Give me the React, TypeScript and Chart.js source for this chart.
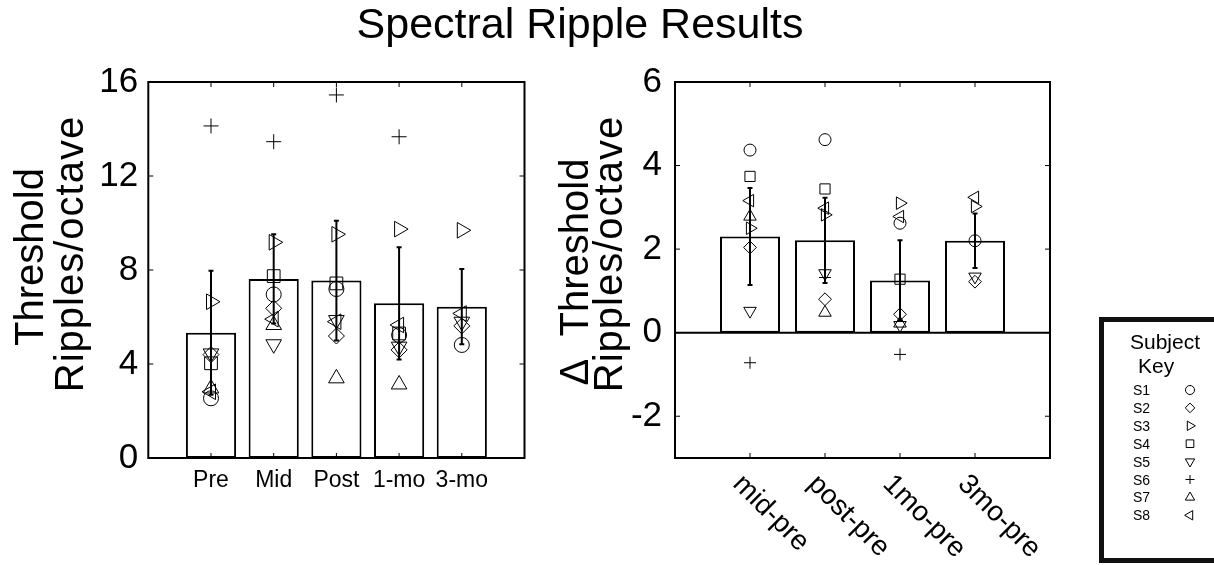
import React, { useEffect, useRef } from 'react';
import { Chart, registerables } from 'chart.js';

Chart.register(...registerables);

const FONT = '"Liberation Sans", Arial, Helvetica, sans-serif';
const W = 1214;
const H = 565;

// ---- Absolute thresholds (ripples/octave) ----
const sessions = ['Pre', 'Mid', 'Post', '1-mo', '3-mo'];
const sessionMeans = [5.33, 7.62, 7.55, 6.58, 6.44];
const sessionSD = [2.64, 1.9, 2.55, 2.39, 1.6];

// one value per session, null where the subject was not tested
const s1Thresh = [2.54, 6.96, 7.19, 5.23, 4.81];
const s2Thresh = [4.4, 6.37, 5.19, 4.6, 5.62];
const s3Thresh = [6.65, 9.18, 9.52, 9.74, 9.69];
const s4Thresh = [4.03, 7.74, 7.43, 5.3, null];
const s5Thresh = [4.45, 4.84, 5.87, 4.74, 5.8];
const s6Thresh = [14.13, 13.46, 15.45, 13.67, null];
const s7Thresh = [2.96, 5.66, 3.39, 3.13, null];
const s8Thresh = [2.82, 5.91, 5.8, 5.66, 6.15];

// ---- Change from baseline ----
const changeLabels = ['mid-pre', 'post-pre', '1mo-pre', '3mo-pre'];
const changeMeans = [2.3, 2.21, 1.25, 2.2];
const changeSD = [1.16, 1.02, 0.96, 0.65];

const s1Change = [4.37, 4.62, 2.62, 2.2];
const s2Change = [2.04, 0.8, 0.44, 1.22];
const s3Change = [2.5, 2.82, 3.1, 3.02];
const s4Change = [3.74, 3.44, 1.28, null];
const s5Change = [0.52, 1.42, 0.18, 1.34];
const s6Change = [-0.72, 1.32, -0.52, null];
const s7Change = [2.78, 0.48, 0.22, null];
const s8Change = [3.16, 2.98, 2.78, 3.24];

const subjectNames = ['S1', 'S2', 'S3', 'S4', 'S5', 'S6', 'S7', 'S8'];
const threshTicks = [0, 4, 8, 12, 16];
const changeTicks = [-2, 0, 2, 4, 6];

// marker shape per subject (S1..S8)
const MARKERS = [
  { pointStyle: 'circle', rotation: 0, r: 7.5 },
  { pointStyle: 'rectRot', rotation: 0, r: 8 },
  { pointStyle: 'triangle', rotation: 90, r: 9 },
  { pointStyle: 'rect', rotation: 0, r: 9 },
  { pointStyle: 'triangle', rotation: 180, r: 9 },
  { pointStyle: 'cross', rotation: 0, r: 7.5 },
  { pointStyle: 'triangle', rotation: 0, r: 9 },
  { pointStyle: 'triangle', rotation: 270, r: 9 },
];

type Area = { left: number; top: number; right: number; bottom: number };

type TitleLine = { text: string; x: number; y: number; spacing: number };

type Panel = {
  xLabels: string[];
  means: number[];
  sd: number[];
  subjects: (number | null)[][];
  yMin: number;
  yMax: number;
  yTicks: number[];
  area: Area;
  padLeft: number;
  yTickPad: number;
  markerScale: number;
  flatLabels: boolean;
  zeroLine: boolean;
  titleLines: TitleLine[];
  figureExtras: boolean;
};

function keyMarker(ctx: CanvasRenderingContext2D, style: string, rot: number, x: number, y: number, r: number) {
  ctx.beginPath();
  if (style === 'circle') {
    ctx.arc(x, y, r, 0, Math.PI * 2);
  } else if (style === 'rect') {
    const s = r * Math.SQRT1_2;
    ctx.rect(x - s, y - s, 2 * s, 2 * s);
  } else if (style === 'rectRot') {
    ctx.moveTo(x - r, y);
    ctx.lineTo(x, y - r);
    ctx.lineTo(x + r, y);
    ctx.lineTo(x, y + r);
    ctx.closePath();
  } else if (style === 'cross') {
    ctx.moveTo(x, y - r);
    ctx.lineTo(x, y + r);
    ctx.moveTo(x - r, y);
    ctx.lineTo(x + r, y);
  } else {
    let a = (rot * Math.PI) / 180;
    for (let k = 0; k < 3; k++) {
      const px = x + Math.sin(a) * r;
      const py = y - Math.cos(a) * r;
      if (k === 0) ctx.moveTo(px, py);
      else ctx.lineTo(px, py);
      a += (2 * Math.PI) / 3;
    }
    ctx.closePath();
  }
  ctx.stroke();
}

function makeDecor(p: Panel) {
  return {
    id: 'panelDecor',
    afterDatasetsDraw(chart: any) {
      const { ctx, chartArea: a } = chart;
      const x = chart.scales.x;
      const y = chart.scales.y;
      ctx.save();
      ctx.strokeStyle = '#000';
      ctx.lineWidth = 2;

      if (p.zeroLine) {
        const y0 = y.getPixelForValue(0);
        ctx.beginPath();
        ctx.moveTo(a.left, y0);
        ctx.lineTo(a.right, y0);
        ctx.stroke();
      }

      // error bars: mean ± SD
      p.means.forEach((m, i) => {
        const px = x.getPixelForValue(i + 1);
        const top = y.getPixelForValue(m + p.sd[i]);
        const bot = y.getPixelForValue(m - p.sd[i]);
        ctx.beginPath();
        ctx.moveTo(px, top);
        ctx.lineTo(px, bot);
        ctx.moveTo(px - 2.5, top);
        ctx.lineTo(px + 2.5, top);
        ctx.moveTo(px - 2.5, bot);
        ctx.lineTo(px + 2.5, bot);
        ctx.stroke();
      });

      // frame with inward ticks
      ctx.strokeRect(a.left, a.top, a.right - a.left, a.bottom - a.top);
      ctx.lineWidth = 1;
      ctx.beginPath();
      y.ticks.forEach((t: any) => {
        const py = y.getPixelForValue(t.value);
        ctx.moveTo(a.left, py);
        ctx.lineTo(a.left + 5, py);
        ctx.moveTo(a.right, py);
        ctx.lineTo(a.right - 5, py);
      });
      x.ticks.forEach((t: any) => {
        const px = x.getPixelForValue(t.value);
        ctx.moveTo(px, a.bottom);
        ctx.lineTo(px, a.bottom - 5);
        ctx.moveTo(px, a.top);
        ctx.lineTo(px, a.top + 5);
      });
      ctx.stroke();
      ctx.restore();
    },
    afterDraw(chart: any) {
      const { ctx, chartArea: a } = chart;
      const x = chart.scales.x;
      ctx.save();
      ctx.fillStyle = '#000';

      // two-line y-axis title
      ctx.font = `40px ${FONT}`;
      ctx.textAlign = 'center';
      ctx.textBaseline = 'alphabetic';
      p.titleLines.forEach((t) => {
        ctx.save();
        (ctx as any).letterSpacing = `${t.spacing}px`;
        ctx.translate(t.x, t.y);
        ctx.rotate(-Math.PI / 2);
        ctx.fillText(t.text, 0, 0);
        ctx.restore();
      });

      // slanted category labels
      if (!p.flatLabels) {
        ctx.font = `28px ${FONT}`;
        ctx.textAlign = 'left';
        ctx.textBaseline = 'top';
        p.xLabels.forEach((t, i) => {
          const px = x.getPixelForValue(i + 1);
          ctx.save();
          ctx.translate(px - 3, a.bottom + 12);
          ctx.rotate(Math.PI / 4);
          ctx.fillText(t, 0, 0);
          ctx.restore();
        });
      }

      if (p.figureExtras) {
        // figure title
        ctx.font = `43px ${FONT}`;
        ctx.textAlign = 'center';
        ctx.textBaseline = 'alphabetic';
        ctx.fillText('Spectral Ripple Results', 580, 38);

        // subject key
        ctx.strokeStyle = '#111';
        ctx.lineWidth = 5;
        ctx.strokeRect(1101.5, 319.5, 116, 241);
        ctx.font = `21px ${FONT}`;
        ctx.textAlign = 'left';
        ctx.fillText('Subject', 1130, 349);
        ctx.fillText('Key', 1138, 373);
        ctx.font = `14px ${FONT}`;
        ctx.strokeStyle = '#000';
        ctx.lineWidth = 1;
        subjectNames.forEach((name, i) => {
          const cy = 390 + i * 17.9;
          ctx.fillText(name, 1133, cy + 5);
          const m = MARKERS[i];
          keyMarker(ctx, m.pointStyle, m.rotation, 1190, cy, m.r * 0.6);
        });
      }
      ctx.restore();
    },
  };
}

function buildPanel(p: Panel) {
  const xs = p.means.map((_, i) => i + 1);
  const datasets: any[] = [
    {
      type: 'bar',
      data: xs.map((xv, i) => ({ x: xv, y: p.means[i] })),
      backgroundColor: '#fff',
      borderColor: '#000',
      borderWidth: 2,
      borderSkipped: false,
      barPercentage: 0.8,
      categoryPercentage: 1,
      order: 10,
    },
    ...p.subjects.map((vals, s) => ({
      type: 'line',
      showLine: false,
      order: 0,
      data: vals
        .map((v, i) => (v == null ? null : { x: i + 1, y: v }))
        .filter((d) => d !== null),
      pointStyle: MARKERS[s].pointStyle,
      pointRotation: MARKERS[s].rotation,
      pointRadius: MARKERS[s].r * p.markerScale,
      pointHoverRadius: MARKERS[s].r * p.markerScale,
      pointBorderColor: '#000',
      pointBackgroundColor: 'rgba(0,0,0,0)',
      pointBorderWidth: 1,
    })),
  ];

  return {
    type: 'bar',
    data: { datasets },
    options: {
      responsive: false,
      animation: false,
      events: [],
      layout: {
        padding: { left: p.padLeft, top: p.area.top, right: W - p.area.right, bottom: 0 },
      },
      plugins: {
        legend: { display: false },
        tooltip: { enabled: false },
        title: { display: false },
      },
      scales: {
        x: {
          type: 'linear',
          min: 0,
          max: xs.length + 1,
          offset: false,
          grid: { display: false, drawTicks: false },
          border: { display: false },
          afterBuildTicks: (s: any) => {
            s.ticks = xs.map((v) => ({ value: v }));
          },
          afterFit: (s: any) => {
            s.height = H - p.area.bottom;
          },
          ticks: {
            display: p.flatLabels,
            autoSkip: false,
            maxRotation: 0,
            minRotation: 0,
            padding: 9,
            color: '#000',
            font: { size: 23, family: FONT },
            callback: (v: any) => p.xLabels[Number(v) - 1] ?? '',
          },
        },
        y: {
          type: 'linear',
          min: p.yMin,
          max: p.yMax,
          grid: { display: false, drawTicks: false },
          border: { display: false },
          afterBuildTicks: (s: any) => {
            s.ticks = p.yTicks.map((v) => ({ value: v }));
          },
          afterFit: (s: any) => {
            s.width = p.area.left - p.padLeft;
          },
          ticks: {
            padding: p.yTickPad,
            color: '#000',
            font: { size: 35, family: FONT },
          },
        },
      },
    },
    plugins: [makeDecor(p)],
  };
}

export default function App() {
  const leftRef = useRef<HTMLCanvasElement>(null);
  const rightRef = useRef<HTMLCanvasElement>(null);

  useEffect(() => {
    const left = new Chart(
      leftRef.current as HTMLCanvasElement,
      buildPanel({
        xLabels: sessions,
        means: sessionMeans,
        sd: sessionSD,
        subjects: [s1Thresh, s2Thresh, s3Thresh, s4Thresh, s5Thresh, s6Thresh, s7Thresh, s8Thresh],
        yMin: 0,
        yMax: 16,
        yTicks: threshTicks,
        area: { left: 148.3, top: 82, right: 524.5, bottom: 458 },
        padLeft: 0,
        yTickPad: 10,
        markerScale: 1,
        flatLabels: true,
        zeroLine: false,
        titleLines: [
          { text: 'Threshold', x: 43, y: 257, spacing: 0 },
          { text: 'Ripples/octave', x: 83, y: 254, spacing: 1 },
        ],
        figureExtras: false,
      }) as any
    );
    const right = new Chart(
      rightRef.current as HTMLCanvasElement,
      buildPanel({
        xLabels: changeLabels,
        means: changeMeans,
        sd: changeSD,
        subjects: [s1Change, s2Change, s3Change, s4Change, s5Change, s6Change, s7Change, s8Change],
        yMin: -3,
        yMax: 6,
        yTicks: changeTicks,
        area: { left: 675, top: 82, right: 1050, bottom: 458 },
        padLeft: 560,
        yTickPad: 13,
        markerScale: 0.8,
        flatLabels: false,
        zeroLine: true,
        titleLines: [
          { text: '\u0394  Threshold', x: 588, y: 272, spacing: 0 },
          { text: 'Ripples/octave', x: 622, y: 254, spacing: 1 },
        ],
        figureExtras: true,
      }) as any
    );
    return () => {
      left.destroy();
      right.destroy();
    };
  }, []);

  return (
    <div style={{ position: 'absolute', left: 0, top: 0, width: W, height: H, background: '#fff' }}>
      <canvas ref={leftRef} width={W} height={H} style={{ position: 'absolute', left: 0, top: 0 }} />
      <canvas ref={rightRef} width={W} height={H} style={{ position: 'absolute', left: 0, top: 0 }} />
    </div>
  );
}
